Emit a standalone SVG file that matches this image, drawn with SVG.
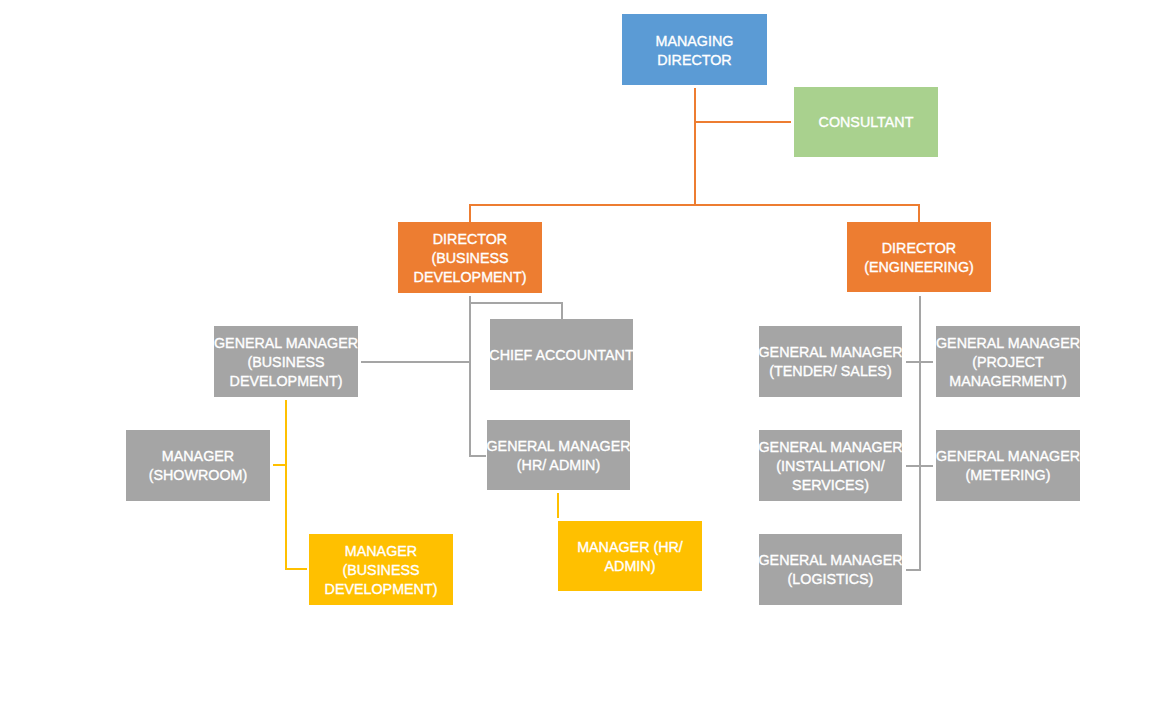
<svg xmlns="http://www.w3.org/2000/svg" width="1173" height="728" viewBox="0 0 1173 728">
<style>
.blue{fill:#5B9BD5}.green{fill:#A9D18E}.orange{fill:#ED7D31}.grey{fill:#A5A5A5}.yellow{fill:#FFC000}
text{font-family:"Liberation Sans",Arial,sans-serif;font-size:14.3px;fill:#fff;stroke:#fff;stroke-width:0.35px;text-anchor:middle}
.c{fill:none;stroke-width:2}
.co{stroke:#ED7D31}.cg{stroke:#A5A5A5}.cy{stroke:#FFC000}
</style>
<rect width="1173" height="728" fill="#fff"/>
<g id="connectors">
<path class="c co" d="M695,88 V205 M695,122 H791 M470,222 V205 H919 V222"/>
<path class="c cg" d="M470,296 V456 H486 M470,303 H562 V319 M361,362 H470 M920,296 V570 H906 M906,362 H933 M906,466 H933"/>
<path class="c cy" d="M286,400 V569 H307 M273,465 H286 M558,493 V518"/>
</g>
<g id="md"><rect class="blue" x="622" y="14" width="145" height="71"/><text x="694.5" y="45.5">MANAGING</text><text x="694.5" y="64.5">DIRECTOR</text></g>
<g id="consultant"><rect class="green" x="794" y="87" width="144" height="70"/><text x="866" y="127">CONSULTANT</text></g>
<g id="dir_bd"><rect class="orange" x="398" y="222" width="144" height="71"/><text x="470" y="243.5">DIRECTOR</text><text x="470" y="262.5">(BUSINESS</text><text x="470" y="281.5">DEVELOPMENT)</text></g>
<g id="dir_eng"><rect class="orange" x="847" y="222" width="144" height="70"/><text x="919" y="253">DIRECTOR</text><text x="919" y="272">(ENGINEERING)</text></g>
<g id="gm_bd"><rect class="grey" x="214" y="326" width="144" height="71"/><text x="286" y="347.5">GENERAL MANAGER</text><text x="286" y="366.5">(BUSINESS</text><text x="286" y="385.5">DEVELOPMENT)</text></g>
<g id="chief"><rect class="grey" x="490" y="319" width="143" height="71"/><text x="561.5" y="359.5">CHIEF ACCOUNTANT</text></g>
<g id="gm_hr"><rect class="grey" x="487" y="420" width="143" height="70"/><text x="558.5" y="451">GENERAL MANAGER</text><text x="558.5" y="470">(HR/ ADMIN)</text></g>
<g id="mgr_show"><rect class="grey" x="126" y="430" width="144" height="71"/><text x="198" y="461">MANAGER</text><text x="198" y="480">(SHOWROOM)</text></g>
<g id="mgr_bd"><rect class="yellow" x="309" y="534" width="144" height="71"/><text x="381" y="555.5">MANAGER</text><text x="381" y="574.5">(BUSINESS</text><text x="381" y="593.5">DEVELOPMENT)</text></g>
<g id="mgr_hr"><rect class="yellow" x="558" y="521" width="144" height="70"/><text x="630" y="551.5">MANAGER (HR/</text><text x="630" y="570.5">ADMIN)</text></g>
<g id="gm_tender"><rect class="grey" x="759" y="326" width="143" height="71"/><text x="830.5" y="357">GENERAL MANAGER</text><text x="830.5" y="376">(TENDER/ SALES)</text></g>
<g id="gm_project"><rect class="grey" x="936" y="326" width="144" height="71"/><text x="1008" y="347.5">GENERAL MANAGER</text><text x="1008" y="366.5">(PROJECT</text><text x="1008" y="385.5">MANAGERMENT)</text></g>
<g id="gm_install"><rect class="grey" x="759" y="430" width="143" height="71"/><text x="830.5" y="451.5">GENERAL MANAGER</text><text x="830.5" y="470.5">(INSTALLATION/</text><text x="830.5" y="489.5">SERVICES)</text></g>
<g id="gm_meter"><rect class="grey" x="936" y="430" width="144" height="71"/><text x="1008" y="461">GENERAL MANAGER</text><text x="1008" y="480">(METERING)</text></g>
<g id="gm_log"><rect class="grey" x="759" y="534" width="143" height="71"/><text x="830.5" y="565">GENERAL MANAGER</text><text x="830.5" y="584">(LOGISTICS)</text></g>
</svg>
